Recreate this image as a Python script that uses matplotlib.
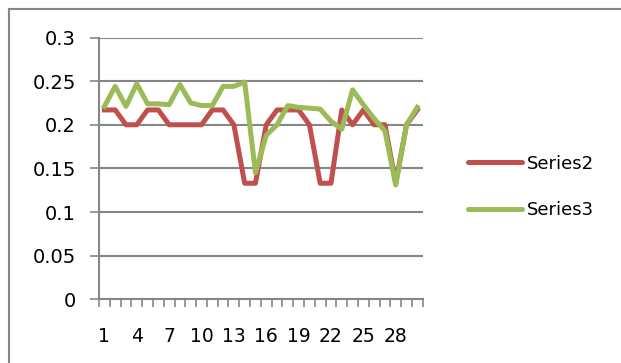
import numpy as np
import matplotlib.pyplot as plt
from matplotlib.lines import Line2D

categories = list(range(1, 31))
series2 = [0.217, 0.217, 0.2, 0.2, 0.217, 0.217, 0.2, 0.2, 0.2, 0.2,
           0.217, 0.217, 0.2, 0.133, 0.133, 0.2, 0.217, 0.217, 0.217, 0.2,
           0.133, 0.133, 0.217, 0.2, 0.217, 0.2, 0.2, 0.133, 0.2, 0.217]
series3 = [0.221, 0.244, 0.221, 0.247, 0.224, 0.224, 0.223, 0.246, 0.225, 0.222,
           0.222, 0.244, 0.244, 0.249, 0.145, 0.188, 0.2, 0.222, 0.22, 0.219,
           0.218, 0.204, 0.195, 0.24, 0.223, 0.207, 0.193, 0.131, 0.2, 0.22]
yticks = [0, 0.05, 0.1, 0.15, 0.2, 0.25, 0.3]
ylabels = ['0', '0.05', '0.1', '0.15', '0.2', '0.25', '0.3']
# every third category gets a label
xlabels = [str(c) if (c - 1) % 3 == 0 else '' for c in categories]

plt.rcParams['font.family'] = ['DejaVu Sans']
red = '#C0504D'
green = '#9BBB59'
grey = '#868686'

fig = plt.figure(figsize=(6.21, 3.63), dpi=100)
fig.patch.set_facecolor('white')
# chart frame: only the left and top edges fall inside the image
fx, fy = 8.5 / 621, 1 - 9 / 363
fig.add_artist(Line2D([fx, fx], [0, fy], transform=fig.transFigure, color=grey, linewidth=1.5))
fig.add_artist(Line2D([fx, 1], [fy, fy], transform=fig.transFigure, color=grey, linewidth=1.5))

ax = fig.add_axes([99 / 621, 1 - 299.3 / 363, (422.7 - 99) / 621, (299.3 - 37.5) / 363])
ax.plot(categories, series2, color=red, linewidth=3.6, solid_joinstyle='round')
ax.plot(categories, series3, color=green, linewidth=3.6, solid_joinstyle='round')

ax.set_xlim(0.5, 30.5)
ax.set_ylim(0, 0.3)
ax.set_yticks(yticks, labels=ylabels, fontsize=14)
ax.set_xticks(categories, labels=xlabels, fontsize=13.5)
ax.set_xticks(np.arange(0.5, 31, 1), minor=True)
ax.tick_params(axis='x', which='major', length=0, pad=20)
ax.tick_params(axis='x', which='minor', length=5.8, color=grey, width=1.2, direction='out')
ax.tick_params(axis='y', length=6.5, color=grey, width=1.2, pad=10)

for y in yticks[1:]:
    ax.axhline(y, color=grey, linewidth=1.5, zorder=0)
for side in ['top', 'right']:
    ax.spines[side].set_visible(False)
for side in ['left', 'bottom']:
    ax.spines[side].set_color(grey)
    ax.spines[side].set_linewidth(1.5)

handles = [Line2D([], [], color=red, linewidth=3.6, solid_capstyle='round'),
           Line2D([], [], color=green, linewidth=3.6, solid_capstyle='round')]
fig.legend(handles, ['Series2', 'Series3'], loc='center left',
           bbox_to_anchor=(468 / 621, 1 - 187 / 363), frameon=False,
           borderaxespad=0, borderpad=0,
           fontsize=13, handlelength=3.0, handletextpad=0.25, labelspacing=1.6)

fig.savefig('out.png', dpi=100)
